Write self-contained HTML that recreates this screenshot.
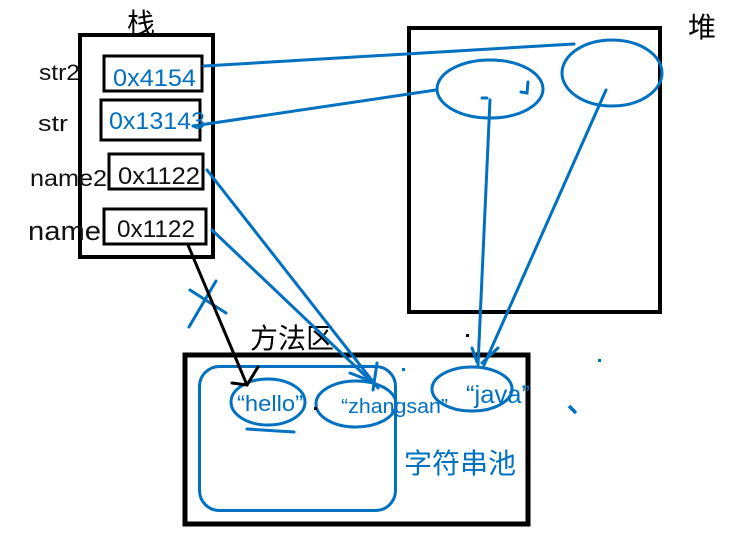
<!DOCTYPE html>
<html>
<head>
<meta charset="utf-8">
<style>
html,body{margin:0;padding:0;background:#fff;width:747px;height:552px;overflow:hidden}
svg{display:block}
text{font-family:"Liberation Sans","Noto Sans CJK SC",sans-serif}
</style>
</head>
<body>
<svg width="747" height="552" viewBox="0 0 747 552" xmlns="http://www.w3.org/2000/svg">
<rect width="747" height="552" fill="#fff"/>
<g fill="none" stroke="#000">
<rect x="80" y="35" width="133" height="222" stroke-width="4"/>
<rect x="104" y="56" width="98" height="35" stroke-width="3"/>
<rect x="101" y="100" width="99" height="40" stroke-width="3"/>
<rect x="109" y="154" width="94" height="35" stroke-width="3"/>
<rect x="104" y="209" width="102" height="35" stroke-width="3"/>
<rect x="409" y="28" width="251" height="284" stroke-width="4"/>
<rect x="185" y="355" width="343" height="169" stroke-width="5"/>
</g>
<g fill="#000" font-size="28">
<text x="127" y="33">栈</text>
<text x="688" y="37">堆</text>
<text x="250" y="348">方法区</text>
</g>
<g fill="#111">
<text x="39" y="80" font-size="22" textLength="41" lengthAdjust="spacingAndGlyphs">str2</text>
<text x="38" y="131" font-size="22" textLength="30" lengthAdjust="spacingAndGlyphs">str</text>
<text x="30" y="186" font-size="23" textLength="77" lengthAdjust="spacingAndGlyphs">name2</text>
<text x="28" y="240" font-size="27" textLength="73" lengthAdjust="spacingAndGlyphs">name</text>
<text x="118" y="184" font-size="24" textLength="82" lengthAdjust="spacingAndGlyphs">0x1122</text>
<text x="117" y="237" font-size="24" textLength="78" lengthAdjust="spacingAndGlyphs">0x1122</text>
</g>
<g fill="#0070c0">
<text x="113" y="86" font-size="24" textLength="83" lengthAdjust="spacingAndGlyphs">0x4154</text>
<text x="109" y="129" font-size="24" textLength="96" lengthAdjust="spacingAndGlyphs">0x13143</text>
<text x="237" y="411" font-size="22" textLength="66" lengthAdjust="spacingAndGlyphs">“hello”</text>
<text x="341" y="413" font-size="20" textLength="107" lengthAdjust="spacingAndGlyphs">“zhangsan”</text>
<text x="466" y="403" font-size="25" textLength="64" lengthAdjust="spacingAndGlyphs">“java”</text>
<text x="404" y="473" font-size="28">字符串池</text>
</g>
<g fill="none" stroke="#0070c0" stroke-width="3" stroke-linecap="round">
<rect x="199.500" y="366.500" width="196" height="144" rx="20"/>
<ellipse cx="268" cy="402" rx="37" ry="23"/>
<ellipse cx="356" cy="404" rx="40" ry="23"/>
<ellipse cx="472" cy="389" rx="40" ry="22"/>
<ellipse cx="490" cy="89" rx="53" ry="29"/>
<ellipse cx="612" cy="73" rx="50" ry="33"/>
<path d="M204 66 574 44"/>
<path d="M193 126 436 90"/>
<path d="M490 100 478 365"/>
<path d="M606 90 484 365"/>
<path d="M472 348 477 362M498 348 482 363"/>
<path d="M207 170 378 388"/>
<path d="M212 230 375 385"/>
<path d="M350 373 373 382M377 363 373 390"/>
<path d="M190 290 226 313M216 281 189 327"/>
<path d="M247 429 294 432"/>
<path d="M482 98H487M521 92 527 93 528 82"/>
</g>
<g fill="none" stroke="#000" stroke-width="3" stroke-linecap="round">
<path d="M188 245 247 385"/>
<path d="M258 367 247 385 232 383"/>
</g>
<rect x="598" y="359" width="3" height="3" fill="#0070c0"/>
<path d="M569 406 576 413" stroke="#0070c0" stroke-width="3.500"/>
<rect x="402" y="368" width="3" height="3" fill="#0070c0"/>
<rect x="466" y="334" width="3" height="3" fill="#000"/>
<rect x="314" y="407" width="3" height="3" fill="#000"/>
</svg>
</body>
</html>
